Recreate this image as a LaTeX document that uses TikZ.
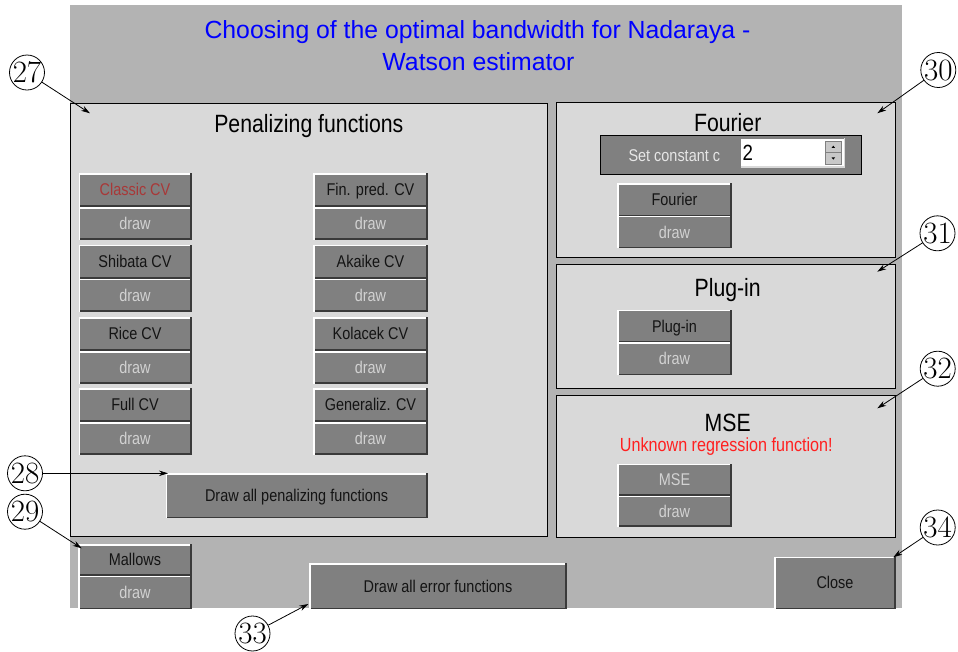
\documentclass[tikz,border=0pt]{standalone}
\usepackage{fontspec}
\newfontfamily\guifont{Liberation Sans}[FakeStretch=0.85]
\newfontfamily\titlefont{Liberation Sans}
\usetikzlibrary{arrows.meta}
\definecolor{winbg}{HTML}{B3B3B3}
\definecolor{panelbg}{HTML}{D9D9D9}
\definecolor{btngray}{HTML}{808080}
\definecolor{btndark}{HTML}{3A3A3A}
\definecolor{drawtxt}{HTML}{D2D2D2}
\definecolor{labeltxt}{HTML}{141414}
\definecolor{classictxt}{HTML}{A83838}
\definecolor{titleblue}{HTML}{0000FF}
\definecolor{warnred}{HTML}{FF2020}
\definecolor{spingray}{HTML}{C8C8C8}
\definecolor{settxt}{HTML}{E6E6E6}

\tikzset{
  btn/.style={fill=btngray, inner sep=0pt, outer sep=0pt,
    font=\guifont\fontsize{17}{20}\selectfont, text height=11.7pt, text depth=0pt},
  bevlight/.style={draw=white, line width=1.4pt},
  bevdark/.style={draw=btndark, line width=1.4pt},
  panel/.style={fill=panelbg, draw=black, line width=1pt, inner sep=0pt, outer sep=0pt},
  ptitle/.style={font=\guifont\fontsize{25}{30}\selectfont, text=black, anchor=base, inner sep=0pt},
  titletxt/.style={font=\titlefont\fontsize{24.8}{30}\selectfont, text=titleblue, anchor=base, inner sep=0pt},
  callout/.style={circle, draw=black, line width=0.8pt, minimum size=35pt, inner sep=0pt,
    font=\fontsize{31}{31}\selectfont, text height=20pt, text depth=0pt},
  arr/.style={draw=black, line width=0.8pt, -{Stealth[length=9pt,width=5.5pt]}},
}

% name, x1, y1, width, height, text colour, label
\newcommand\guibtn[7]{%
  \node[btn, minimum width=#4pt, minimum height=#5pt, text=#6] (#1) at ({#2+#4/2},{#3+#5/2}) {#7};
  \draw[bevdark] ([shift={(0.7pt,0.7pt)}]#1.south west) -- ([shift={(-0.7pt,0.7pt)}]#1.south east) -- ([xshift=-0.7pt]#1.north east);
  \draw[bevlight] ([xshift=0.7pt]#1.south west) -- ([shift={(0.7pt,-0.7pt)}]#1.north west) -- ([shift={(-1.4pt,-0.7pt)}]#1.north east);}
% name, x1, y1, x2, y2
\newcommand\guipanel[5]{%
  \node[panel, minimum width={(#4-#2)*1pt}, minimum height={(#5-#3)*1pt}] (#1) at ({(#2+#4)/2},{(#3+#5)/2}) {};}

\begin{document}
\begin{tikzpicture}[x=1pt, y=-1pt]
\useasboundingbox[fill=white] (0,0) rectangle (958,651);

% window
\fill[winbg] (70,5) rectangle (901.7,608.3);
\node[titletxt] (title1) at (477.5,38.3) {Choosing of the optimal bandwidth for Nadaraya -};
\node[titletxt] (title2) at (478.5,70.8) {Watson estimator};

% panels
\guipanel{pen}{70.5}{103.3}{547.5}{536.7}
\guipanel{four}{556.7}{102.7}{895.7}{257.7}
\guipanel{plug}{556.7}{264.7}{895.7}{388}
\guipanel{mse}{556.7}{395.7}{895.7}{537}

\node[ptitle] (pentitle) at (308.8,132.7) {Penalizing functions};
\node[ptitle] (fourtitle) at (727.7,131.7) {Fourier};
\node[ptitle] (plugtitle) at (727.7,296) {Plug-in};
\node[ptitle] (msetitle) at (727.7,431.7) {MSE};
\node[font=\guifont\fontsize{19}{22}\selectfont, text=warnred, anchor=base, inner sep=0pt] (msewarn) at (726.3,451.7) {Unknown regression function!};

% penalizing buttons, left column
\guibtn{classic}{78.5}{173.3}{113}{33.5}{classictxt}{Classic CV}
\guibtn{classicd}{78.5}{207.3}{113}{32.5}{drawtxt}{draw}
\guibtn{shibata}{78.5}{245}{113}{33.5}{labeltxt}{Shibata CV}
\guibtn{shibatad}{78.5}{279}{113}{32.5}{drawtxt}{draw}
\guibtn{rice}{78.5}{317.3}{113}{33.5}{labeltxt}{Rice CV}
\guibtn{riced}{78.5}{351.3}{113}{32.5}{drawtxt}{draw}
\guibtn{full}{78.5}{388.3}{113}{33.5}{labeltxt}{Full CV}
\guibtn{fulld}{78.5}{422.3}{113}{32.5}{drawtxt}{draw}
% right column
\guibtn{finpred}{313.3}{173.3}{114.3}{33.5}{labeltxt}{Fin. pred. CV}
\guibtn{finpredd}{313.3}{207.3}{114.3}{32.5}{drawtxt}{draw}
\guibtn{akaike}{313.3}{245}{114.3}{33.5}{labeltxt}{Akaike CV}
\guibtn{akaiked}{313.3}{279}{114.3}{32.5}{drawtxt}{draw}
\guibtn{kolacek}{313.3}{317.3}{114.3}{33.5}{labeltxt}{Kolacek CV}
\guibtn{kolacekd}{313.3}{351.3}{114.3}{32.5}{drawtxt}{draw}
\guibtn{generaliz}{313.3}{388.3}{114.3}{33.5}{labeltxt}{Generaliz. CV}
\guibtn{generalizd}{313.3}{422.3}{114.3}{32.5}{drawtxt}{draw}

\guibtn{drawpen}{165.7}{473.3}{261.8}{45}{labeltxt}{Draw all penalizing functions}

% bottom buttons
\guibtn{mallows}{78.3}{544.3}{113.4}{31.4}{labeltxt}{Mallows}
\guibtn{mallowsd}{78.3}{575.7}{113.4}{33.3}{drawtxt}{draw}
\guibtn{drawerr}{309.3}{563.3}{257.4}{46}{labeltxt}{Draw all error functions}
\guibtn{close}{774.3}{556.7}{121.4}{52.3}{labeltxt}{Close}

% Fourier panel
\node[fill=btngray, draw=black, line width=1.5pt, inner sep=0pt, minimum width=261.4pt, minimum height=38.6pt] (setbox) at (731,155) {};
\node[font=\guifont\fontsize{17}{20}\selectfont, text=settxt, inner sep=0pt, text height=11.7pt, text depth=0pt] (settext) at (674.3,156) {Set constant c};
\node[fill=white, inner sep=0pt, minimum width=103.3pt, minimum height=28.4pt] (cfield) at (792.35,152.5) {};
\draw[draw=btngray, line width=1pt] (cfield.south west) -- (cfield.north west) -- (cfield.north east);
\draw[draw=panelbg, line width=1.2pt] (cfield.south west) -- (cfield.south east) -- (cfield.north east);
\node[font=\guifont\fontsize{22}{24}\selectfont, text=black, anchor=base west, inner sep=0pt] (cval) at (742.5,160) {2};
\node[fill=spingray, draw=btngray, line width=0.6pt, inner sep=0pt, minimum width=16.7pt, minimum height=10.3pt] (spinup) at (833.3,146.9) {};
\node[fill=spingray, draw=btngray, line width=0.6pt, inner sep=0pt, minimum width=16.7pt, minimum height=11.3pt] (spindown) at (833.3,158.4) {};
\fill[black] ([shift={(-1.8pt,-1pt)}]spinup.center) -- ([shift={(1.8pt,-1pt)}]spinup.center) -- ([yshift=1.2pt]spinup.center) -- cycle;
\fill[black] ([shift={(-1.8pt,1pt)}]spindown.center) -- ([shift={(1.8pt,1pt)}]spindown.center) -- ([yshift=-1.2pt]spindown.center) -- cycle;

\guibtn{fourbtn}{617.3}{183.3}{114.4}{32.7}{labeltxt}{Fourier}
\guibtn{fourd}{617.3}{216}{114.4}{32.3}{drawtxt}{draw}
\guibtn{plugbtn}{617.3}{310}{114.4}{32.3}{labeltxt}{Plug-in}
\guibtn{plugd}{617.3}{342.3}{114.4}{32.7}{drawtxt}{draw}
\guibtn{msebtn}{617.3}{464}{114.4}{31.7}{drawtxt}{MSE}
\guibtn{msed}{617.3}{495.7}{114.4}{31}{drawtxt}{draw}

% callouts
\node[callout] (c27) at (27,72.5) {27};
\node[callout] (c28) at (25,473.3) {28};
\node[callout] (c29) at (25,511.7) {29};
\node[callout] (c30) at (938.3,70) {30};
\node[callout] (c31) at (937.5,233.3) {31};
\node[callout] (c32) at (937.7,368.7) {32};
\node[callout] (c33) at (252.5,633.5) {33};
\node[callout] (c34) at (937.7,527.5) {34};

\coordinate (t27) at (90,113.3);
\coordinate (t28) at (168,473.3);
\coordinate (t29) at (81.7,548.3);
\coordinate (t30) at (877.3,113.3);
\coordinate (t31) at (877.3,271.7);
\coordinate (t32) at (877.3,408.3);
\coordinate (t33) at (308.3,604);
\coordinate (t34) at (893.3,557.3);

\draw[arr] (c27) -- (t27);
\draw[arr] (c28) -- (t28);
\draw[arr] (c29) -- (t29);
\draw[arr] (c30) -- (t30);
\draw[arr] (c31) -- (t31);
\draw[arr] (c32) -- (t32);
\draw[arr] (c33) -- (t33);
\draw[arr] (c34) -- (t34);
\end{tikzpicture}
\end{document}
